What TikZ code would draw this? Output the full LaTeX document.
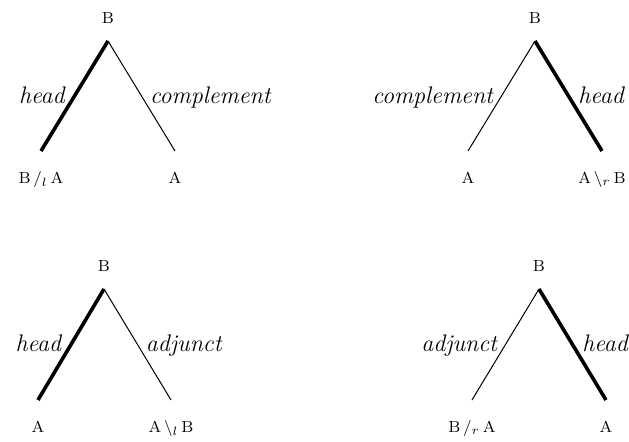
\documentclass[tikz,border=0pt]{standalone}
\usepackage{tikz}
\usetikzlibrary{positioning}
\tikzset{
  cat/.style={font=\fontsize{8}{10}\selectfont, inner xsep=1pt,
    text height=5.6pt, text depth=0pt},
  root/.style={cat, anchor=south, inner ysep=8.5pt},
  leaf/.style={cat, anchor=north, inner ysep=10.5pt},
  branch/.style={draw=black, line width=0.5pt},
  headbranch/.style={branch, line width=1.8pt},
  role/.style={font=\fontsize{12}{14}\selectfont\itshape, inner xsep=4pt,
    inner ysep=0pt, text height=8.5pt, text depth=1.5pt}
}

\begin{document}
\begin{tikzpicture}[x=0.5pt,y=-0.5pt]
  \useasboundingbox (0,0) rectangle (629,441);

  % Head on the left, complement on the right.
  \node[root] (root-hc) at (108,41) {B};
  \node[leaf] (head-hc) at (41,151) {B$\,/_{l}\,$A};
  \node[leaf] (comp-hc) at (175,151) {A};
  \draw[headbranch] (root-hc.south) -- (head-hc.north)
    node[role, midway, anchor=east] (role-hc-h) {head};
  \draw[branch] (root-hc.south) -- (comp-hc.north)
    node[role, midway, anchor=west] (role-hc-c) {complement};

  % Complement on the left, head on the right.
  \node[root] (root-ch) at (535,41) {B};
  \node[leaf] (comp-ch) at (468,151) {A};
  \node[leaf] (head-ch) at (602,151) {A$\,\backslash_{r}\,$B};
  \draw[branch] (root-ch.south) -- (comp-ch.north)
    node[role, midway, anchor=east] (role-ch-c) {complement};
  \draw[headbranch] (root-ch.south) -- (head-ch.north)
    node[role, midway, anchor=west] (role-ch-h) {head};

  % Head on the left, adjunct on the right.
  \node[root] (root-ha) at (104,289) {B};
  \node[leaf] (head-ha) at (38,400) {A};
  \node[leaf] (adj-ha) at (171,400) {A$\,\backslash_{l}\,$B};
  \draw[headbranch] (root-ha.south) -- (head-ha.north)
    node[role, midway, anchor=east] (role-ha-h) {head};
  \draw[branch] (root-ha.south) -- (adj-ha.north)
    node[role, midway, anchor=west] (role-ha-a) {adjunct};

  % Adjunct on the left, head on the right.
  \node[root] (root-ah) at (539,289) {B};
  \node[leaf] (adj-ah) at (472,400) {B$\,/_{r}\,$A};
  \node[leaf] (head-ah) at (606,400) {A};
  \draw[branch] (root-ah.south) -- (adj-ah.north)
    node[role, midway, anchor=east] (role-ah-a) {adjunct};
  \draw[headbranch] (root-ah.south) -- (head-ah.north)
    node[role, midway, anchor=west] (role-ah-h) {head};
\end{tikzpicture}
\end{document}
